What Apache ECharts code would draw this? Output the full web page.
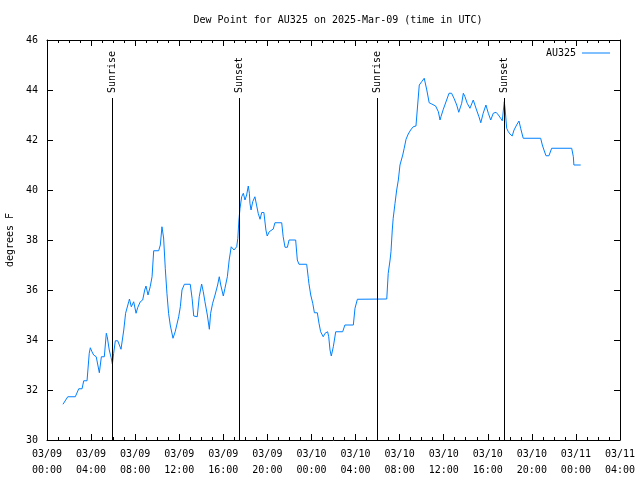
<!DOCTYPE html>
<html><head><meta charset="utf-8">
<script src="https://cdn.jsdelivr.net/npm/echarts@6/dist/echarts.min.js"></script>
<style>html,body{margin:0;padding:0;background:#fff}#c{width:640px;height:480px}</style>
</head><body><div id="c"></div>
<script>
// Observation times as hours after 2025-03-09 00:00 UTC
var obsHours = [1.45,1.88,2.57,2.88,3.18,3.33,3.63,3.84,3.93,4.08,4.24,4.47,4.75,4.93,5.20,5.38,5.47,5.65,5.81,5.93,
6.05,6.20,6.42,6.72,6.96,7.14,7.41,7.49,7.65,7.87,8.08,8.23,8.47,8.68,8.87,8.98,9.17,9.37,9.53,9.68,
10.14,10.28,10.44,10.59,10.73,10.89,11.04,11.19,11.43,11.64,11.95,12.10,12.25,12.46,13.00,13.16,13.31,13.64,13.82,14.04,
14.18,14.34,14.55,14.73,14.85,15.04,15.25,15.49,15.64,15.76,16.00,16.15,16.36,16.54,16.72,16.97,17.21,17.31,17.42,17.51,
17.67,17.81,17.97,18.12,18.27,18.36,18.42,18.51,18.67,18.87,19.03,19.17,19.33,19.48,19.69,19.87,19.99,20.17,20.54,20.69,
21.30,21.44,21.60,21.81,21.96,22.57,22.71,22.87,23.57,23.71,23.77,23.93,24.11,24.26,24.53,24.68,24.84,25.07,25.23,25.47,
25.56,25.68,25.80,25.98,26.20,26.83,27.04,27.80,27.95,28.16,30.83,30.97,31.13,31.22,31.33,31.42,31.58,31.73,31.88,32.03,
32.28,32.42,32.58,32.79,33.00,33.24,33.48,33.78,34.00,34.24,34.46,34.69,34.91,35.27,35.51,35.66,35.75,35.96,36.27,36.48,
36.72,36.93,37.18,37.36,37.48,37.63,37.78,37.93,38.14,38.38,38.54,38.68,38.84,38.99,39.20,39.36,39.59,39.84,40.05,40.26,
40.50,40.75,40.96,41.17,41.32,41.41,41.50,41.59,41.72,41.86,42.01,42.22,42.38,42.62,42.83,42.99,43.22,44.80,44.95,45.10,
45.28,45.55,45.80,47.61,47.76,47.82,48.43];
// Dew point, degrees F
var dewPoint = [31.43,31.73,31.73,32.05,32.05,32.37,32.37,33.47,33.69,33.53,33.40,33.33,32.69,33.33,33.33,34.27,34.13,33.60,33.30,33.04,
33.47,33.97,33.97,33.63,34.40,35.07,35.53,35.64,35.33,35.53,35.07,35.30,35.53,35.60,36.00,36.16,35.80,36.13,36.53,37.57,
37.57,37.80,38.53,38.08,36.87,35.87,35.07,34.60,34.07,34.33,34.93,35.33,36.00,36.23,36.23,35.67,34.96,34.93,35.73,36.24,
35.93,35.53,35.00,34.43,35.07,35.47,35.80,36.20,36.53,36.20,35.76,36.07,36.53,37.20,37.73,37.60,37.73,38.07,38.80,39.27,
39.73,39.87,39.60,39.80,40.16,39.87,39.47,39.20,39.53,39.73,39.80,39.07,38.83,39.10,39.10,38.40,38.16,38.33,38.44,38.69,
38.69,38.13,37.71,37.71,38.00,38.00,37.20,37.03,37.03,36.47,36.27,35.80,35.47,35.09,35.09,34.67,34.33,34.13,34.27,34.33,
34.13,33.60,33.36,33.73,34.33,34.33,34.60,34.60,35.27,35.63,35.64,36.67,37.20,37.53,38.40,38.87,39.47,40.00,40.40,41.00,
41.40,41.67,42.03,42.24,42.40,42.53,42.56,44.20,44.33,44.47,44.00,43.49,43.44,43.36,43.13,42.80,42.93,43.23,43.60,43.87,
43.87,43.67,43.40,43.11,43.11,43.47,43.87,43.73,43.47,43.27,43.27,43.60,43.60,43.20,42.93,42.69,43.07,43.40,43.07,42.80,
43.07,43.11,43.00,42.87,42.77,43.20,43.53,43.20,42.47,42.33,42.24,42.16,42.40,42.60,42.76,42.47,42.07,42.07,41.80,41.60,
41.37,41.37,41.67,41.67,41.33,41.00,41.00];
// Sun events (hours after 2025-03-09 00:00 UTC)
var eventHours = [5.93, 17.39, 29.99, 41.50];
var eventNames = ['Sunrise', 'Sunset', 'Sunrise', 'Sunset'];
var yTicks = [30, 32, 34, 36, 38, 40, 42, 44, 46];
var stationName = 'AU325';
var titleText = 'Dew Point for AU325 on 2025-Mar-09 (time in UTC)';

var H = 3600000;
var base = Date.UTC(2025, 2, 9, 0, 0);
var xMin = base, xMax = base + 52 * H;
var lineData = obsHours.map(function (h, i) { return [base + Math.round(h * 60) * 60000, dewPoint[i]]; });
var evData = eventHours.map(function (h) { return [base + Math.round(h * 60) * 60000]; });

function pad(n) { return (n < 10 ? '0' : '') + n; }
function fmt(v) {
  var d = new Date(v);
  return pad(d.getUTCMonth() + 1) + '/' + pad(d.getUTCDate()) + '\n' + pad(d.getUTCHours()) + ':' + pad(d.getUTCMinutes());
}
var FONT = 'DejaVu Sans Mono';
var chart = echarts.init(document.getElementById('c'), null, { renderer: 'canvas' });
chart.setOption({
  animation: false,
  backgroundColor: '#fff',
  title: { text: titleText, left: 333, top: 10, textAlign: 'center',
    textStyle: { fontFamily: FONT, fontSize: 10, fontWeight: 'normal', color: '#000' } },
  legend: { data: [stationName], right: 25, top: 43, align: 'right', icon: 'rect', itemWidth: 28, itemHeight: 1,
    itemGap: 0, textStyle: { fontFamily: FONT, fontSize: 10, color: '#000', padding: [0, 1, 0, 0] } },
  grid: { left: 47, right: 20, top: 40, bottom: 40, show: false, containLabel: false, outerBoundsMode: 'none' },
  xAxis: [{
    type: 'value', min: xMin, max: xMax, interval: 4 * H,
    axisLine: { show: true, onZero: false, lineStyle: { color: '#000', width: 1 } },
    axisTick: { show: true, inside: true, length: 6, lineStyle: { color: '#000' } },
    minorTick: { show: true, splitNumber: 4, length: 3, lineStyle: { color: '#000' } },
    splitLine: { show: false },
    axisLabel: { formatter: fmt, fontFamily: FONT, fontSize: 10, color: '#000', margin: 6, lineHeight: 16, showMinLabel: true, showMaxLabel: true, hideOverlap: false }
  }, {
    type: 'value', position: 'top', min: xMin, max: xMax, interval: 4 * H,
    axisLine: { show: true, onZero: false, lineStyle: { color: '#000', width: 1 } },
    axisTick: { show: true, inside: true, length: 6, lineStyle: { color: '#000' } },
    minorTick: { show: true, splitNumber: 4, length: 3, lineStyle: { color: '#000' } },
    splitLine: { show: false }, axisLabel: { show: false }
  }],
  yAxis: [{
    type: 'value', min: yTicks[0], max: yTicks[yTicks.length - 1], interval: 2,
    name: 'degrees F', nameLocation: 'middle', nameGap: 32, nameRotate: 90,
    nameTextStyle: { fontFamily: FONT, fontSize: 10, color: '#000' },
    axisLine: { show: true, onZero: false, lineStyle: { color: '#000', width: 1 } },
    axisTick: { show: true, inside: true, length: 6, lineStyle: { color: '#000' } },
    splitLine: { show: false },
    axisLabel: { fontFamily: FONT, fontSize: 10, color: '#000', margin: 9 }
  }, {
    type: 'value', position: 'right', min: yTicks[0], max: yTicks[yTicks.length - 1], interval: 2,
    axisLine: { show: true, onZero: false, lineStyle: { color: '#000', width: 1 } },
    axisTick: { show: true, inside: true, length: 6, lineStyle: { color: '#000' } },
    splitLine: { show: false }, axisLabel: { show: false }
  }],
  series: [{
    name: stationName, type: 'line', data: lineData, showSymbol: false, symbol: 'none',
    color: '#0080ff', lineStyle: { color: '#0080ff', width: 1 }, z: 3
  }, {
    name: 'events', type: 'custom', data: evData, z: 4,
    renderItem: function (params, api) {
      var cs = params.coordSys;
      var x = Math.round(api.coord([api.value(0), 30])[0]) + 0.5;
      var bottom = cs.y + cs.height;
      var top = cs.y + 58;
      return { type: 'group', children: [
        { type: 'line', shape: { x1: x, y1: top, x2: x, y2: bottom }, style: { stroke: '#000', lineWidth: 1 } },
        { type: 'text', x: x, y: top - 5, rotation: Math.PI / 2,
          style: { text: eventNames[params.dataIndex], textAlign: 'left', textVerticalAlign: 'middle', fill: '#000',
            font: '10px "' + FONT + '"' } }
      ] };
    }
  }]
});
</script></body></html>
